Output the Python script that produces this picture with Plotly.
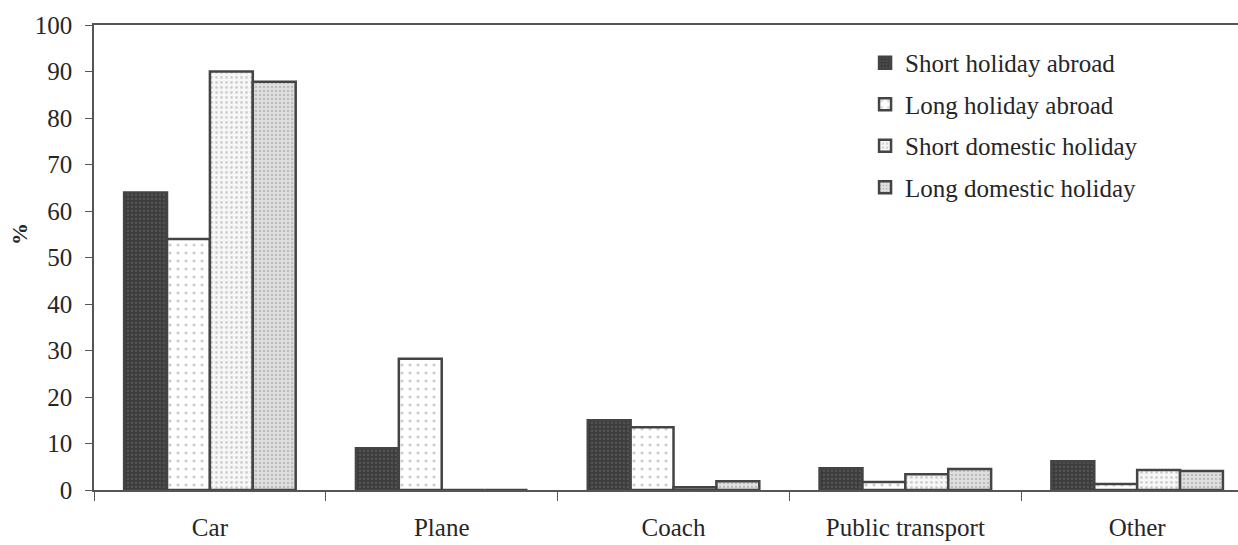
import plotly.graph_objects as go

categories = ["Car", "Plane", "Coach", "Public transport", "Other"]
series_names = ["Short holiday abroad", "Long holiday abroad",
                "Short domestic holiday", "Long domestic holiday"]
short_abroad = [64, 9, 15, 4.7, 6.2]
long_abroad = [54, 28.2, 13.5, 1.7, 1.3]
short_domestic = [90, 0, 0.6, 3.4, 4.3]
long_domestic = [87.8, 0, 1.9, 4.5, 4.1]
y_ticks = [0, 10, 20, 30, 40, 50, 60, 70, 80, 90, 100]

values = [short_abroad, long_abroad, short_domestic, long_domestic]
patterns = [
    dict(shape=".", bgcolor="#3a3a3a", fgcolor="#686868", size=4, solidity=0.4),
    dict(shape=".", bgcolor="#ffffff", fgcolor="#9a9a9a", size=8, solidity=0.12),
    dict(shape=".", bgcolor="#f7f7f7", fgcolor="#a8a8a8", size=5, solidity=0.25),
    dict(shape=".", bgcolor="#e0e0e0", fgcolor="#9a9a9a", size=4, solidity=0.35),
]

fig = go.Figure()
for name, vals, pat in zip(series_names, values, patterns):
    fig.add_trace(go.Bar(
        x=categories, y=vals, name=name, legendgroup=name,
        marker=dict(color=pat["bgcolor"], pattern=pat,
                    line=dict(color="#444444", width=2.5)),
    ))

font_family = "Liberation Serif"
text_color = "#262626"
fig.update_layout(
    width=1238, height=545,
    paper_bgcolor="white", plot_bgcolor="white",
    margin=dict(l=94, r=0, t=25, b=55),
    barmode="group", bargap=0.26, bargroupgap=0,
    font=dict(family=font_family, color=text_color, size=25),
    legend=dict(x=0.674, y=0.968, xanchor="left", yanchor="top",
                font=dict(family=font_family, size=25, color=text_color),
                tracegroupgap=6, bgcolor="rgba(0,0,0,0)", itemwidth=30),
    xaxis=dict(range=[-0.5, 4.435], showline=True, linecolor="#555555",
               linewidth=1.5, mirror=True, ticks="outside", tickson="boundaries",
               ticklen=9, tickcolor="#555555", showgrid=False,
               ticklabelstandoff=14, automargin=False,
               tickfont=dict(family=font_family, size=25, color=text_color)),
    yaxis=dict(range=[0, 100], tickvals=y_ticks, showline=True,
               linecolor="#555555", linewidth=1.5, ticks="outside", ticklen=7,
               tickcolor="#555555", showgrid=False, zeroline=False,
               ticklabelstandoff=8, automargin=False,
               tickfont=dict(family=font_family, size=25, color=text_color)),
    annotations=[dict(text="<b>%</b>", x=-0.065, y=0.55, xref="paper", yref="paper",
                      xanchor="center", yanchor="middle", textangle=-90,
                      showarrow=False,
                      font=dict(family=font_family, size=22, color=text_color))],
)

fig.write_html("out.html", config={"displayModeBar": False},
               post_script="document.body.style.margin='0';document.body.style.overflow='hidden';")
